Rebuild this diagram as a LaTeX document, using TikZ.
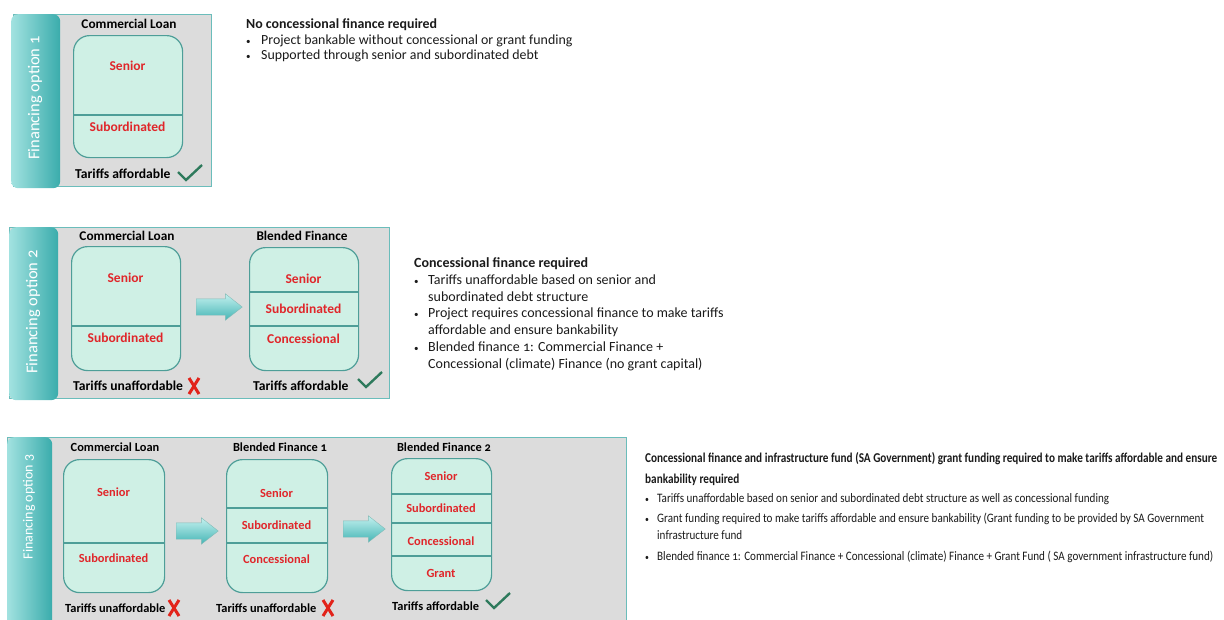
\documentclass[tikz,border=0pt]{standalone}
\usepackage{fontspec}
\setmainfont{Carlito}[Numbers=OldStyle]
\newfontfamily\condfont{Carlito}[FakeStretch=0.86,Numbers=OldStyle]
\newfontfamily\condhead{Carlito}[FakeStretch=0.83,Numbers=OldStyle]
\usetikzlibrary{shapes.arrows}
\definecolor{panelgray}{HTML}{DCDCDC}
\definecolor{panelborder}{HTML}{6BBDBB}
\definecolor{tablight}{HTML}{A2E2E0}
\definecolor{tabdark}{HTML}{3AACAC}
\definecolor{boxfill}{HTML}{CFF0E5}
\definecolor{boxline}{HTML}{4E9E98}
\definecolor{redtext}{HTML}{E0262A}
\definecolor{checkgreen}{HTML}{2E7A5C}
\definecolor{xred}{HTML}{E2231A}
\definecolor{arrowlight}{HTML}{C4F1EF}
\definecolor{arrowdark}{HTML}{45B5B5}
\definecolor{desctext}{HTML}{1A1A1A}
\newcommand{\smallbullet}{{\fontsize{9}{9}\selectfont\textbullet}}
\begin{document}
\begin{tikzpicture}[x=1pt,y=-1pt,
  panel/.style={draw=panelborder, line width=1pt, fill=panelgray, anchor=north west, inner sep=0pt},
  tabbox/.style={rounded corners=7pt, left color=tablight, right color=tabdark, draw=none, anchor=north west, inner sep=0pt},
  tablabel/.style={rotate=90, text=white, font=\fontsize{16.5}{16.5}\selectfont},
  finbox/.style={draw=boxline, line width=1.2pt, fill=boxfill, rounded corners=16pt, anchor=north west, inner sep=0pt},
  divider/.style={draw=boxline, line width=1.2pt},
  titletext/.style={font=\bfseries\fontsize{13.3}{15}\selectfont},
  layer/.style={text=redtext, font=\bfseries\fontsize{13.5}{15}\selectfont},
  tariff/.style={font=\bfseries\fontsize{13.6}{15}\selectfont, anchor=west, inner sep=0pt},
  small/.style={font=\bfseries\fontsize{12.4}{14}\selectfont},
  blockarrow/.style={single arrow, draw=boxline!70, line width=0.4pt, top color=arrowlight, bottom color=arrowdark,
     minimum width=26pt, single arrow head extend=5pt, inner xsep=0pt, inner ysep=8pt, single arrow tip angle=76},
  desc/.style={anchor=north west, inner sep=0pt, align=left, text=desctext},
  checkpic/.pic={\draw[draw=checkgreen, line width=2.4pt] (-12,-1) -- (-4,7) -- (12,-8);},
  xpic/.pic={\draw[draw=xred, line width=3pt] (-5,-8) -- (5,8) (5,-8) -- (-5,8);},
]
\clip (0,0) rectangle (1224,619);
\useasboundingbox (0,0) rectangle (1224,619);

% ---------------- Panel 1 ----------------
\node[panel, minimum width=198pt, minimum height=172pt] (p1) at (13,14) {};
\node[tabbox, minimum width=49pt, minimum height=174pt] (t1) at (11,14) {};
\node[tablabel] (l1) at (35,98) {Financing option 1};
\node[titletext] (p1t) at (129,24) {Commercial Loan};
\node[finbox, minimum width=109pt, minimum height=122pt] (b11) at (73,35) {};
\draw[divider] (b11.west |- 0,115) -- (b11.east |- 0,115);
\node[layer] (b11s) at (127.5,66) {Senior};
\node[layer] (b11d) at (127.5,127) {Subordinated};
\node[tariff] (f11) at (75,174) {Tariffs affordable};
\pic at (190,173) {checkpic};

% ---------------- Panel 2 ----------------
\node[panel, minimum width=380pt, minimum height=171pt] (p2) at (9,227) {};
\node[tabbox, minimum width=49pt, minimum height=173pt] (t2) at (9,227) {};
\node[tablabel] (l2) at (33,312) {Financing option 2};
\node[titletext] (p2t1) at (127,236) {Commercial Loan};
\node[finbox, minimum width=109pt, minimum height=124pt] (b21) at (71,246) {};
\draw[divider] (b21.west |- 0,326) -- (b21.east |- 0,326);
\node[layer] (b21s) at (125.5,278) {Senior};
\node[layer] (b21d) at (125.5,338) {Subordinated};
\node[blockarrow, minimum height=46pt] (a21) at (214,307) {};
\node[titletext] (p2t2) at (302,236) {Blended Finance};
\node[finbox, minimum width=109pt, minimum height=123pt] (b22) at (249,247) {};
\draw[divider] (b22.west |- 0,292) -- (b22.east |- 0,292);
\draw[divider] (b22.west |- 0,326) -- (b22.east |- 0,326);
\node[layer] (b22s) at (303.5,279) {Senior};
\node[layer] (b22d) at (303.5,309) {Subordinated};
\node[layer] (b22c) at (303.5,339) {Concessional};
\node[tariff] (f21) at (73,386) {Tariffs unaffordable};
\pic at (194,386) {xpic};
\node[tariff] (f22) at (253,386) {Tariffs affordable};
\pic at (370,380) {checkpic};

% ---------------- Panel 3 ----------------
\node[panel, minimum width=619pt, minimum height=200pt] (p3) at (7,437) {};
\node[tabbox, minimum width=45pt, minimum height=200pt] (t3) at (7,437) {};
\node[tablabel, font=\fontsize{14}{14}\selectfont] (l3) at (29,507) {Financing option 3};
\node[titletext, small] (p3t1) at (115,447) {Commercial Loan};
\node[titletext, small] (p3t2) at (280,447) {Blended Finance 1};
\node[titletext, small] (p3t3) at (444,447) {Blended Finance 2};
\node[finbox, minimum width=101pt, minimum height=133pt] (b31) at (63,459) {};
\draw[divider] (b31.west |- 0,543) -- (b31.east |- 0,543);
\node[layer, small] (b31s) at (113.5,492) {Senior};
\node[layer, small] (b31d) at (113.5,558) {Subordinated};
\node[blockarrow, minimum height=42pt] (a31) at (192,531) {};
\node[finbox, minimum width=101pt, minimum height=133pt] (b32) at (226,459) {};
\draw[divider] (b32.west |- 0,508) -- (b32.east |- 0,508);
\draw[divider] (b32.west |- 0,543) -- (b32.east |- 0,543);
\node[layer, small] (b32s) at (276.5,493) {Senior};
\node[layer, small] (b32d) at (276.5,525) {Subordinated};
\node[layer, small] (b32c) at (276.5,559) {Concessional};
\node[blockarrow, minimum height=42pt] (a32) at (359,529) {};
\node[finbox, minimum width=100pt, minimum height=132pt] (b33) at (391,458) {};
\draw[divider] (b33.west |- 0,494) -- (b33.east |- 0,494);
\draw[divider] (b33.west |- 0,523) -- (b33.east |- 0,523);
\draw[divider] (b33.west |- 0,556) -- (b33.east |- 0,556);
\node[layer, small] (b33s) at (441,476) {Senior};
\node[layer, small] (b33d) at (441,508) {Subordinated};
\node[layer, small] (b33c) at (441,541) {Concessional};
\node[layer, small] (b33g) at (441,573) {Grant};
\node[tariff, small] (f31) at (65,608) {Tariffs unaffordable};
\pic at (174,608) {xpic};
\node[tariff, small] (f32) at (216,608) {Tariffs unaffordable};
\pic at (328,608) {xpic};
\node[tariff, small] (f33) at (392,606) {Tariffs affordable};
\pic at (498,601) {checkpic};

% ---------------- Descriptions ----------------
\node[desc, font=\fontsize{13.9}{15.5}\selectfont] (d1) at (246,17.5) {%
\begin{tabular}{@{}p{15pt}@{}l@{}}
\multicolumn{2}{@{}l@{}}{\bfseries No concessional finance required}\\
\smallbullet & Project bankable without concessional or grant funding\\
\smallbullet & Supported through senior and subordinated debt
\end{tabular}};

\node[desc, font=\fontsize{14}{16.8}\selectfont] (d2) at (414,255.5) {%
\begin{tabular}{@{}p{14pt}@{}l@{}}
\multicolumn{2}{@{}l@{}}{\bfseries Concessional finance required}\\
\smallbullet & Tariffs unaffordable based on senior and\\
 & subordinated debt structure\\
\smallbullet & Project requires concessional finance to make tariffs\\
 & affordable and ensure bankability\\
\smallbullet & Blended finance 1: Commercial Finance +\\
 & Concessional (climate) Finance (no grant capital)\\[-1.5pt]
\end{tabular}};

\node[desc, font=\condfont\fontsize{12.9}{17}\selectfont] (d3) at (645,450) {%
\begin{tabular}{@{}p{12pt}@{}l@{}}
\multicolumn{2}{@{}l@{}}{\condhead\bfseries\fontsize{13.5}{17}\selectfont Concessional finance and infrastructure fund (SA Government) grant funding required to make tariffs affordable and ensure}\\[4pt]
\multicolumn{2}{@{}l@{}}{\condhead\bfseries\fontsize{13.5}{17}\selectfont bankability required}\\[2pt]
\smallbullet & Tariffs unaffordable based on senior and subordinated debt structure as well as concessional funding\\[3pt]
\smallbullet & Grant funding required to make tariffs affordable and ensure bankability (Grant funding to be provided by SA Government\\
 & infrastructure fund\\[4pt]
\smallbullet & Blended finance 1: Commercial Finance + Concessional (climate) Finance + Grant Fund ( SA government infrastructure fund)
\end{tabular}};
\end{tikzpicture}
\end{document}
